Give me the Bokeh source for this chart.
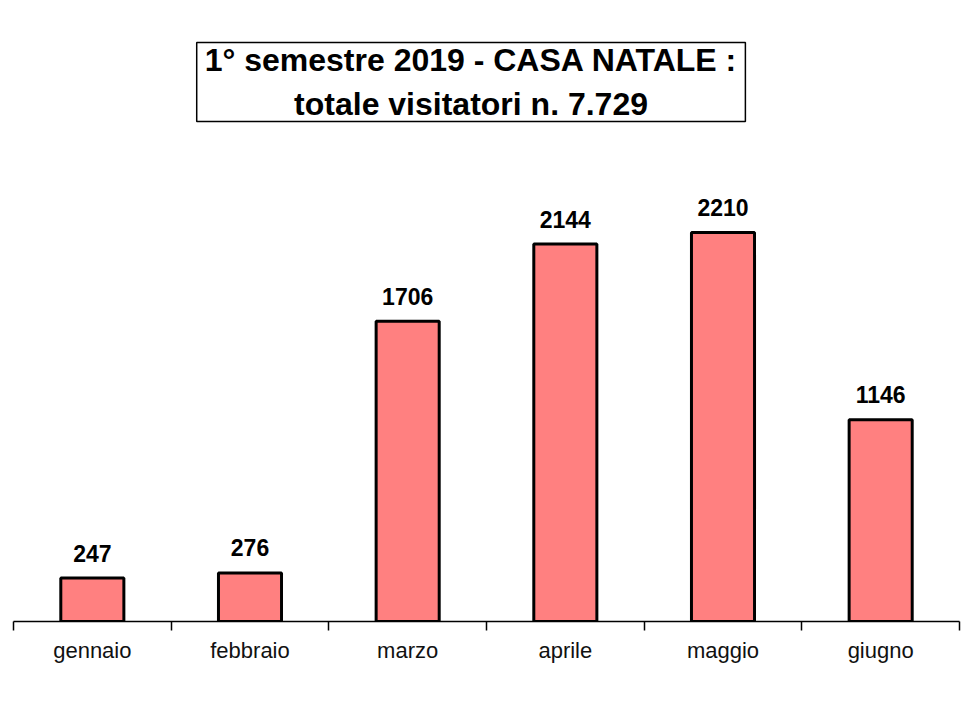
from bokeh.plotting import figure
from bokeh.models import Range1d, FixedTicker, Label, ColumnDataSource
from bokeh.core.properties import value
from bokeh.embed import file_html
from bokeh.resources import INLINE

months = ["gennaio", "febbraio", "marzo", "aprile", "maggio", "giugno"]
visitors = [247, 276, 1706, 2144, 2210, 1146]
title_lines = ["1° semestre 2019 - CASA NATALE :", "totale visitatori n. 7.729"]

xs = [i + 0.5 for i in range(len(months))]
src = ColumnDataSource(dict(x=xs, top=visitors, lab=[str(v) for v in visitors]))

W, H = 966, 716
p = figure(width=W, height=H, output_backend="svg", toolbar_location=None,
           x_range=Range1d(0, len(months)), y_range=Range1d(0, 3528),
           y_axis_location=None, min_border_left=13, min_border_right=W - 959,
           min_border_top=0, min_border_bottom=H - 621)
p.outline_line_color = None
p.grid.visible = False
p.background_fill_color = "white"
p.border_fill_color = "white"

p.vbar(x="x", top="top", width=0.4, bottom=0, source=src,
       fill_color="#FF8080", line_color="black", line_width=3)

p.text(x="x", y="top", text="lab", source=src, y_offset=-25,
       text_align="center", text_baseline="alphabetic",
       text_font=value("Liberation Sans"), text_font_style="bold",
       text_font_size="23px", text_color="black")

ax = p.xaxis[0]
ax.ticker = FixedTicker(ticks=xs, minor_ticks=list(range(len(months) + 1)))
ax.major_label_overrides = {x: m for x, m in zip(xs, months)}
ax.major_tick_out = 0
ax.major_tick_in = 0
ax.minor_tick_out = 9
ax.minor_tick_in = 0
ax.minor_tick_line_color = "black"
ax.minor_tick_line_width = 1.5
ax.axis_line_color = "black"
ax.axis_line_width = 1.5
ax.major_label_standoff = 7
ax.major_label_text_font = "Liberation Sans"
ax.major_label_text_font_size = "22px"
ax.major_label_text_color = "#111111"

title = Label(x=2.902, y=3065, text="\n".join(title_lines),
              text_align="center", text_baseline="middle",
              text_font="Liberation Sans", text_font_style="bold",
              text_font_size="32px", text_color="black",
              border_line_color="black", border_line_width=1.5,
              background_fill_color="white", padding=(8, 0))
p.add_layout(title)

open("out.html", "w").write(file_html(p, INLINE))
